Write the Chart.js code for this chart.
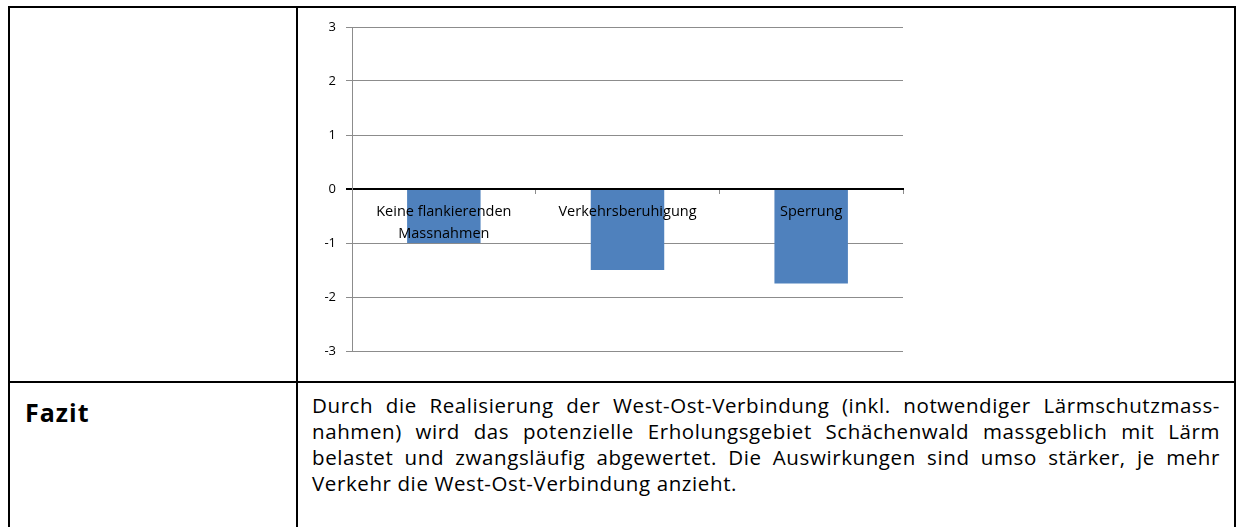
<!DOCTYPE html>
<html>
<head>
<meta charset="utf-8">
<script src="https://cdn.jsdelivr.net/npm/chart.js@4.4.1/dist/chart.umd.min.js"></script>
<style>
  html, body { margin:0; padding:0; background:#fff; }
  body { width:1238px; height:527px; position:relative; overflow:hidden; font-family:"Open Sans", sans-serif; color:#000; }
  .ln { position:absolute; background:#000; }
  #fazit { position:absolute; left:25px; top:396px; font-weight:bold; font-size:25px; letter-spacing:1px; line-height:32px; }
  #para { position:absolute; left:312px; top:392px; width:908px; font-size:20.5px; letter-spacing:0.6px; line-height:26px; }
  #para div { text-align:justify; text-align-last:justify; white-space:nowrap; }
  #para div.last { text-align-last:left; }
  #wrap { position:absolute; left:0; top:0; width:1238px; height:527px; }
</style>
</head>
<body>
<div class="ln" style="left:8px; top:6px; width:1228px; height:2px;"></div>
<div class="ln" style="left:8px; top:6px; width:2px; height:521px;"></div>
<div class="ln" style="left:296px; top:6px; width:2px; height:521px;"></div>
<div class="ln" style="left:1234px; top:6px; width:2px; height:521px;"></div>
<div class="ln" style="left:8px; top:381px; width:1228px; height:2px;"></div>
<div id="fazit">Fazit</div>
<div id="para">
  <div>Durch die Realisierung der West-Ost-Verbindung (inkl. notwendiger Lärmschutzmass-</div>
  <div>nahmen) wird das potenzielle Erholungsgebiet Schächenwald massgeblich mit Lärm</div>
  <div>belastet und zwangsläufig abgewertet. Die Auswirkungen sind umso stärker, je mehr</div>
  <div class="last">Verkehr die West-Ost-Verbindung anzieht.</div>
</div>
<div id="wrap"><canvas id="c"></canvas></div>
<script>
const categories = [["Keine flankierenden", "Massnahmen"], "Verkehrsberuhigung", "Sperrung"];
const values = [-1, -1.5, -1.75];
const yTicks = [-3, -2, -1, 0, 1, 2, 3];

new Chart(document.getElementById('c'), {
  type: 'bar',
  data: {
    labels: categories,
    datasets: [{
      data: values,
      backgroundColor: '#4F81BD',
      borderWidth: 0,
      categoryPercentage: 1,
      barPercentage: 0.4
    }]
  },
  options: {
    responsive: true,
    maintainAspectRatio: false,
    animation: false,
    layout: { padding: { left: 0, top: 27, right: 335, bottom: 176 } },
    plugins: { legend: { display: false }, tooltip: { enabled: false } },
    scales: {
      x: {
        position: { y: 0 },
        offset: true,
        grid: { display: true, drawOnChartArea: false, drawTicks: true, tickLength: 4, color: '#8c8c8c', offset: true },
        border: { display: true, color: '#000', width: 2 },
        ticks: { z: 1, color: '#000', font: { family: 'Open Sans', size: 14.5, lineHeight: 1.5 }, padding: 8, maxRotation: 0, autoSkip: false }
      },
      y: {
        min: yTicks[0],
        max: yTicks[yTicks.length - 1],
        afterBuildTicks: (s) => { s.ticks = yTicks.map(v => ({ value: v })); },
        afterFit: (s) => { s.width = 352; },
        grid: {
          color: (c) => c.tick && c.tick.value === 0 ? '#000' : '#8c8c8c',
          lineWidth: (c) => c.tick && c.tick.value === 0 ? 2 : 1,
          tickLength: 6
        },
        border: { display: true, color: '#8c8c8c', width: 1 },
        ticks: { color: '#000', font: { family: 'Open Sans', size: 13 }, padding: 10 }
      }
    }
  }
});
</script>
</body>
</html>
